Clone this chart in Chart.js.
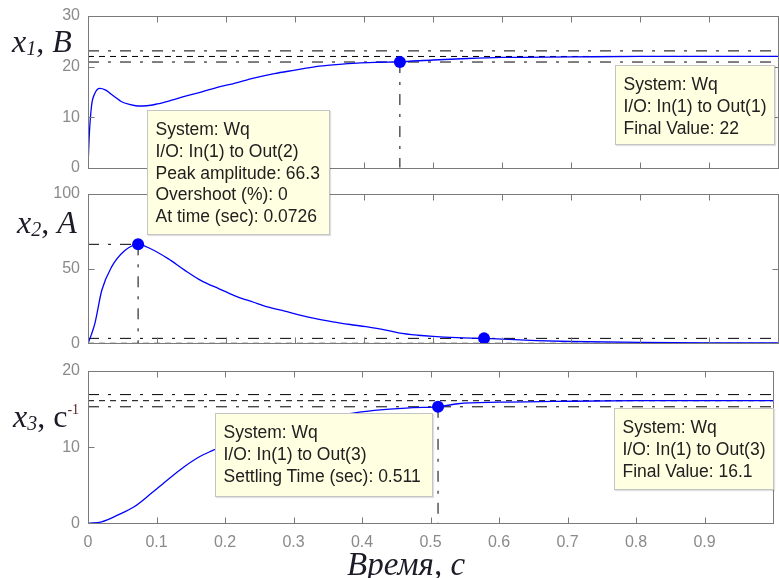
<!DOCTYPE html>
<html>
<head>
<meta charset="utf-8">
<script src="https://cdn.jsdelivr.net/npm/chart.js@4.4.1/dist/chart.umd.min.js"></script>
<style>
html, body { margin: 0; padding: 0; background: #fff; overflow: hidden; }
#wrap { position: relative; width: 784px; height: 578px; }
#wrap canvas { position: absolute; left: 0; }
.tip {
  position: absolute; box-sizing: border-box; z-index: 5;
  background: #ffffe1; border: 1px solid #c4c4c4;
  box-shadow: 1px 1px 1px rgba(0,0,0,.12);
  font: 17.5px/21.8px "Liberation Sans", Arial, sans-serif; color: #202020;
  padding: 8px 0 0 7.5px; white-space: nowrap;
}
.lab {
  position: absolute; z-index: 4; white-space: nowrap; color: #1c1c28;
  font-family: "Liberation Serif", "Times New Roman", serif; font-size: 32px; line-height: 32px;
}
.lab sub { font-size: 20px; font-style: italic; vertical-align: -3px; line-height: 0; }
.lab sup { font-size: 14px; vertical-align: 13px; line-height: 0; color: #5a1a1a; }
</style>
</head>
<body>
<div id="wrap">
  <canvas id="c1" width="784" height="184" style="top:0px"></canvas>
  <canvas id="c2" width="784" height="182" style="top:178px"></canvas>
  <canvas id="c3" width="784" height="223" style="top:355px"></canvas>

  <div class="lab" style="left:12px;top:25px"><i>x</i><sub>1</sub>, <i>B</i></div>
  <div class="lab" style="left:17px;top:206px"><i>x</i><sub>2</sub>, <i>A</i></div>
  <div class="lab" style="left:13px;top:400px"><i>x</i><sub>3</sub>, с<sup>-1</sup></div>
  <div class="lab" style="left:347px;top:548px;font-size:33px"><i>Время, с</i></div>

  <div class="tip" style="left:147px;top:110px;width:183px;height:125px">System: Wq<br>I/O: In(1) to Out(2)<br>Peak amplitude: 66.3<br>Overshoot (%): 0<br>At time (sec): 0.0726</div>
  <div class="tip" style="left:615px;top:65px;width:160px;height:80px">System: Wq<br>I/O: In(1) to Out(1)<br>Final Value: 22</div>
  <div class="tip" style="left:215px;top:413px;width:218px;height:84px">System: Wq<br>I/O: In(1) to Out(3)<br>Settling Time (sec): 0.511</div>
  <div class="tip" style="left:614px;top:408px;width:160px;height:82px">System: Wq<br>I/O: In(1) to Out(3)<br>Final Value: 16.1</div>
</div>
<script>
// time axis
var xTicks = [0, 0.1, 0.2, 0.3, 0.4, 0.5, 0.6, 0.7, 0.8, 0.9, 1];
var xTickLabels = ['0', '0.1', '0.2', '0.3', '0.4', '0.5', '0.6', '0.7', '0.8', '0.9', ''];

// x1, B
var t1 = [0, 0.0015, 0.005, 0.01, 0.017, 0.025, 0.032, 0.04, 0.048, 0.06, 0.072, 0.085, 0.1, 0.12, 0.14, 0.165, 0.19, 0.21, 0.24, 0.27, 0.3, 0.33, 0.36, 0.39, 0.42, 0.45, 0.5, 0.55, 0.6, 0.7, 0.8, 0.9, 1.0];
var x1 = [0, 5.5, 12.1, 14.7, 15.7, 15.4, 14.7, 13.9, 13.1, 12.5, 12.2, 12.25, 12.6, 13.3, 14.1, 15.0, 16.0, 16.6, 17.7, 18.6, 19.3, 20.0, 20.4, 20.7, 20.85, 20.95, 21.3, 21.6, 21.8, 21.9, 22.0, 22.0, 22.0];
var y1Ticks = [0, 10, 20, 30];
var band1 = [20.9, 22, 23.1];      // -5%, final value, +5%
var settle1 = [0.452, 20.9];

// x2, A
var t2 = [0, 0.005, 0.01, 0.02, 0.034, 0.053, 0.0726, 0.09, 0.116, 0.14, 0.164, 0.19, 0.212, 0.24, 0.26, 0.285, 0.307, 0.33, 0.355, 0.38, 0.403, 0.43, 0.45, 0.478, 0.5, 0.535, 0.574, 0.6, 0.65, 0.7, 0.8, 0.9, 1.0];
var x2 = [0, 6, 13.3, 35.5, 51, 62, 66.3, 63.5, 56.7, 49, 42, 36.5, 32, 27.5, 24.4, 21.5, 18.9, 16.5, 14.4, 12.6, 11.1, 9.0, 7.0, 5.4, 4.6, 3.8, 3.3, 2.8, 1.8, 1.2, 0.6, 0.3, 0.2];
var y2Ticks = [0, 50, 100];
var band2 = [0, 3.3];
var peak2 = [0.0726, 66.3];
var settle2 = [0.574, 3.3];

// x3, c^-1
var t3 = [0, 0.02, 0.044, 0.068, 0.092, 0.116, 0.14, 0.164, 0.183, 0.2, 0.25, 0.3, 0.35, 0.396, 0.427, 0.475, 0.511, 0.54, 0.6, 0.68, 0.8, 0.9, 1.0];
var x3 = [0, 0.2, 1.1, 2.2, 3.9, 5.7, 7.4, 8.8, 9.6, 10.3, 11.8, 13.0, 13.9, 14.6, 14.9, 15.2, 15.3, 15.7, 15.9, 16.0, 16.1, 16.1, 16.1];
var y3Ticks = [0, 10, 20];
var band3 = [15.3, 16.1, 16.9];
var settle3 = [0.511, 15.3];

var DASHDOT = [11, 9, 3, 9];
var DASH = [6, 5];

function pts(t, v) { return t.map(function (ti, i) { return {x: ti, y: v[i]}; }); }

function curve(t, v) {
  return {data: pts(t, v), borderColor: '#0000ff', borderWidth: 1.3, pointRadius: 0,
          cubicInterpolationMode: 'monotone', fill: false};
}
function refLine(a, b, dash) {
  return {data: [a, b], borderColor: '#000', borderWidth: 1, borderDash: dash,
          pointRadius: 0, fill: false, tension: 0};
}
function marker(p) {
  return {data: [{x: p[0], y: p[1]}], showLine: false, pointRadius: 6,
          pointBackgroundColor: '#0000ff', pointBorderColor: '#0000ff', pointBorderWidth: 0};
}

// grey box with inward ticks, matlab style
var frame = {
  id: 'frame',
  afterDatasetsDraw: function (chart, args, opts) {
    var ctx = chart.ctx, a = chart.chartArea, x = chart.scales.x, y = chart.scales.y;
    var L = Math.round(a.left) + 0.5, R = Math.round(a.right) + 0.5;
    var T = Math.round(a.top) + 0.5, B = Math.round(a.bottom) + 0.5;
    ctx.save();
    ctx.strokeStyle = '#7a7a7a';
    ctx.lineWidth = 1;
    ctx.strokeRect(L, T, R - L, B - T);
    ctx.beginPath();
    xTicks.forEach(function (v) {
      var px = Math.round(x.getPixelForValue(v)) + 0.5;
      ctx.moveTo(px, T); ctx.lineTo(px, T + 6);
      ctx.moveTo(px, B); ctx.lineTo(px, B - 6);
    });
    opts.yTicks.forEach(function (v) {
      var py = Math.round(y.getPixelForValue(v)) + 0.5;
      ctx.moveTo(L, py); ctx.lineTo(L + 6, py);
      ctx.moveTo(R, py); ctx.lineTo(R - 6, py);
    });
    ctx.stroke();
    ctx.restore();
  }
};

var tickFont = {family: '"Liberation Sans", Arial, sans-serif', size: 16, lineHeight: 1};

// bottomH: height kept under the plot box (tick labels + title on the last one)
function makeChart(id, datasets, yMax, yStep, yTicks, top, bottomH, showLabels) {
  return new Chart(document.getElementById(id), {
    type: 'line',
    data: {datasets: datasets},
    plugins: [frame],
    options: {
      responsive: false,
      animation: false,
      layout: {padding: {top: top, bottom: 0, left: 0, right: 1}},
      plugins: {legend: {display: false}, tooltip: {enabled: false}, frame: {yTicks: yTicks}},
      scales: {
        x: {
          type: 'linear', min: 0, max: 1,
          grid: {display: false, drawTicks: false}, border: {display: false},
          ticks: {display: showLabels, stepSize: 0.1, autoSkip: false, maxRotation: 0, padding: 11,
                  color: '#8a8a8a', font: tickFont,
                  callback: function (v, i) { return xTickLabels[i]; }},
          afterFit: function (s) { s.height = bottomH; }
        },
        y: {
          min: 0, max: yMax,
          grid: {display: false, drawTicks: false}, border: {display: false},
          ticks: {stepSize: yStep, padding: 8, color: '#8a8a8a', font: tickFont},
          afterFit: function (s) { s.width = 88; }
        }
      }
    }
  });
}

makeChart('c1', [
  marker(settle1),
  curve(t1, x1),
  refLine({x: 0, y: band1[2]}, {x: 1, y: band1[2]}, DASHDOT),
  refLine({x: 0, y: band1[1]}, {x: 1, y: band1[1]}, DASH),
  refLine({x: 0, y: band1[0]}, {x: 1, y: band1[0]}, DASHDOT),
  refLine({x: settle1[0], y: settle1[1]}, {x: settle1[0], y: 0}, DASHDOT)
], 30, 10, y1Ticks, 16, 16.3, false);

makeChart('c2', [
  marker(peak2),
  marker(settle2),
  curve(t2, x2),
  refLine({x: 0, y: band2[1]}, {x: 1, y: band2[1]}, DASHDOT),
  refLine({x: 0, y: band2[0]}, {x: 1, y: band2[0]}, DASH),
  refLine({x: 0, y: peak2[1]}, {x: peak2[0], y: peak2[1]}, DASHDOT),
  refLine({x: peak2[0], y: peak2[1]}, {x: peak2[0], y: 0}, DASHDOT)
], 100, 50, y2Ticks, 15.3, 16.7, false);

makeChart('c3', [
  marker(settle3),
  curve(t3, x3),
  refLine({x: 0, y: band3[2]}, {x: 1, y: band3[2]}, DASHDOT),
  refLine({x: 0, y: band3[1]}, {x: 1, y: band3[1]}, DASH),
  refLine({x: 0, y: band3[0]}, {x: 1, y: band3[0]}, DASHDOT),
  refLine({x: settle3[0], y: settle3[1]}, {x: settle3[0], y: 0}, DASHDOT)
], 20, 10, y3Ticks, 15.7, 54.7, true);
</script>
</body>
</html>
